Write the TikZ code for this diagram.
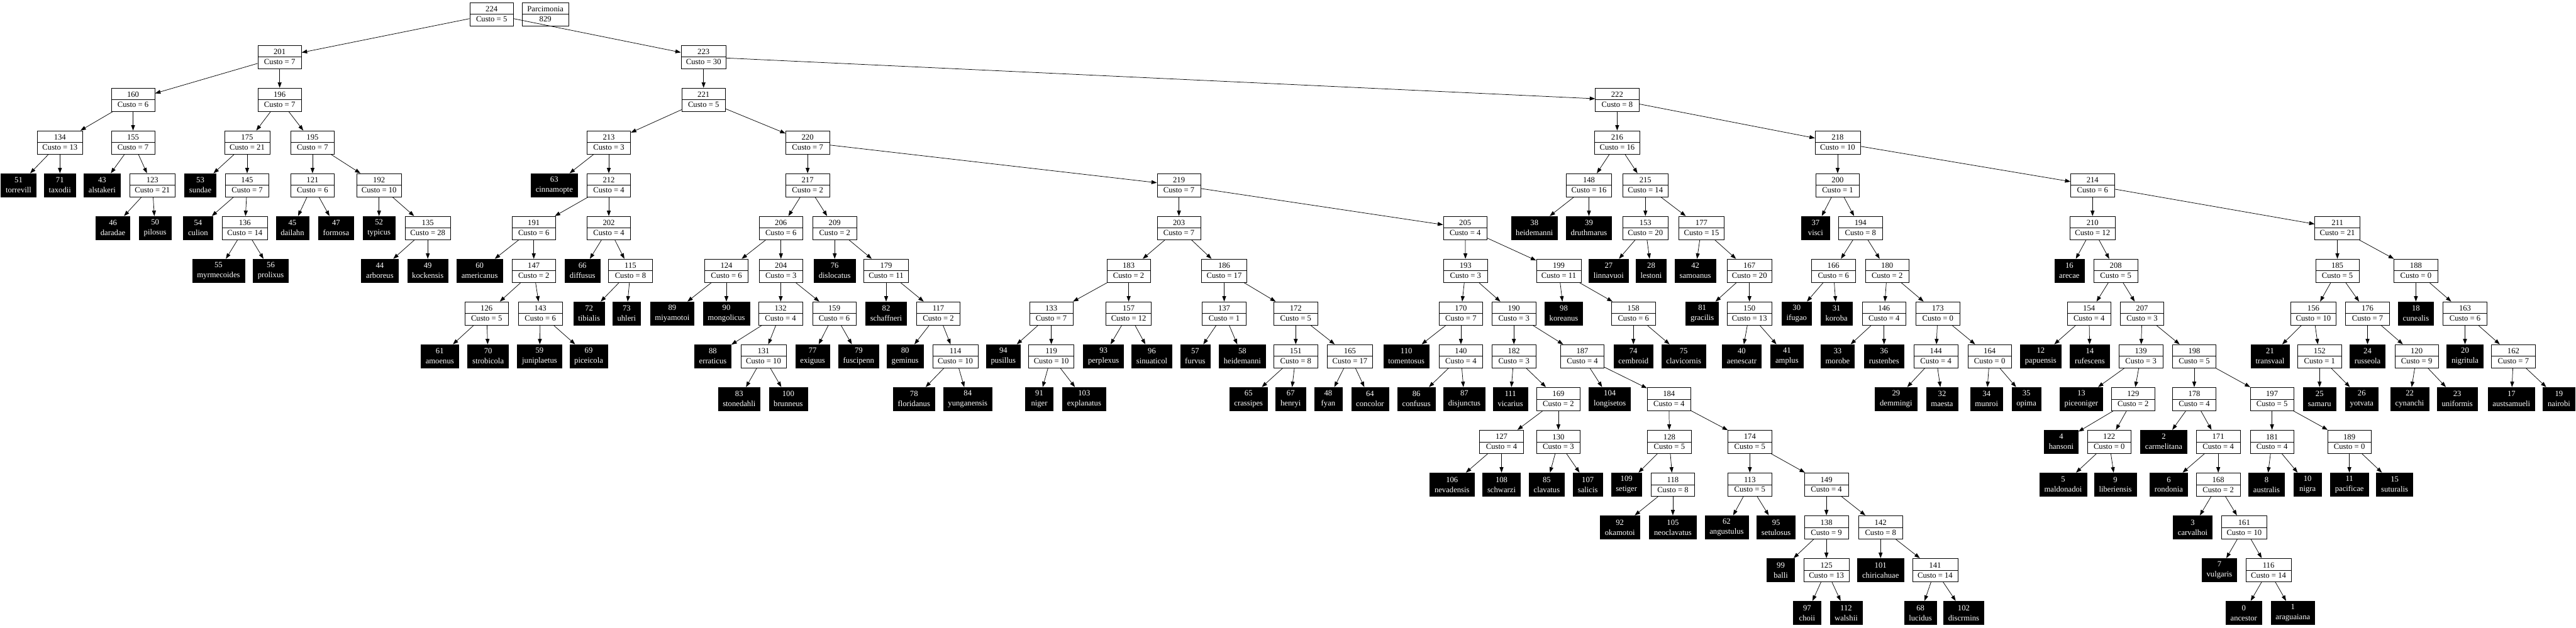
\documentclass[tikz,border=0pt]{standalone}
\usepackage{fontspec}
\setmainfont{Liberation Serif}
\usetikzlibrary{arrows.meta}

\begin{document}
\begin{tikzpicture}[x=0.5pt, y=-55.3pt,
    box/.style={draw, line width=0.5pt, minimum height=30.5pt, inner ysep=0pt,
      align=center, font=\fontsize{10.3}{13}\selectfont},
    inode/.style={box, fill=white, minimum width=56.5pt, inner xsep=6.5pt,
      path picture={\draw[line width=0.5pt] (path picture bounding box.west) -- (path picture bounding box.east);}},
    leaf/.style={box, fill=black, text=white, minimum width=36pt, inner xsep=6pt},
    link/.style={line width=0.6pt, -{Triangle[length=7pt, width=5pt]}}]

    \useasboundingbox (0,-0.3327) rectangle (6660,14.3425);

    % root and score
    \node[inode] (n224) at (1271,0) {224\\Custo = 5};
    \node[inode] (parc) at (1410,0) {Parcimonia\\829};

    % internal nodes, one loop per level
    \foreach \id/\xx/\cst in {201/723/7, 223/1819/30}
        \node[inode] (n\id) at (\xx,1) {\id\\Custo = \cst};
    \foreach \id/\xx/\cst in {160/344/6, 196/723/7, 221/1819/5, 222/4181/8}
        \node[inode] (n\id) at (\xx,2) {\id\\Custo = \cst};
    \foreach \id/\xx/\cst in {134/155/13, 155/344/7, 175/639/21, 195/808/7, 213/1574/3,
        220/2088/7, 216/4181/16, 218/4751/10}
        \node[inode] (n\id) at (\xx,3) {\id\\Custo = \cst};
    \foreach \id/\xx/\cst in {123/394/21, 145/639/7, 121/808/6, 192/980/10, 212/1574/4,
        217/2088/2, 219/3048/7, 148/4108/16, 215/4254/14, 200/4751/1, 214/5410/6}
        \node[inode] (n\id) at (\xx,4) {\id\\Custo = \cst};
    \foreach \id/\xx/\cst in {136/633/14, 135/1106/28, 191/1380/6, 202/1574/4, 206/2019/6,
        209/2158/2, 203/3048/7, 205/3788/4, 153/4254/20, 177/4399/15, 194/4810/8,
        210/5410/12, 211/6043/21}
        \node[inode] (n\id) at (\xx,5) {\id\\Custo = \cst};
    \foreach \id/\xx/\cst in {147/1380/2, 115/1630/8, 124/1878/6, 204/2019/3, 179/2291/11,
        183/2918/2, 186/3165/17, 193/3789/3, 199/4030/11, 167/4523/20, 166/4740/6,
        180/4879/2, 208/5470/5, 185/6043/5, 188/6246/0}
        \node[inode] (n\id) at (\xx,6) {\id\\Custo = \cst};
    \foreach \id/\xx/\cst in {126/1258/5, 143/1397/6, 132/2018/4, 159/2157/6, 117/2426/2,
        133/2718/7, 157/2918/12, 137/3165/1, 172/3350/5, 170/3777/7, 190/3914/3,
        158/4223/6, 150/4523/13, 146/4871/4, 173/5010/0, 154/5401/4, 207/5538/3,
        156/5981/10, 176/6121/7, 163/6373/6}
        \node[inode] (n\id) at (\xx,7) {\id\\Custo = \cst};
    \foreach \id/\xx/\cst in {131/1974/10, 114/2470/10, 119/2718/10, 151/3350/8, 165/3490/17,
        140/3777/4, 182/3914/3, 187/4091/4, 144/5005/4, 164/5144/0, 139/5535/3,
        198/5673/5, 152/5997/1, 120/6248/9, 162/6498/7}
        \node[inode] (n\id) at (\xx,8) {\id\\Custo = \cst};
    \foreach \id/\xx/\cst in {169/4029/2, 184/4315/4, 129/5515/2, 178/5673/4, 197/5874/5}
        \node[inode] (n\id) at (\xx,9) {\id\\Custo = \cst};
    \foreach \id/\xx/\cst in {127/3882/4, 130/4029/3, 128/4316/5, 174/4524/5, 122/5453/0,
        171/5735/4, 181/5874/4, 189/6074/0}
        \node[inode] (n\id) at (\xx,10) {\id\\Custo = \cst};
    \foreach \id/\xx/\cst in {118/4325/8, 113/4524/5, 149/4722/4, 168/5735/2}
        \node[inode] (n\id) at (\xx,11) {\id\\Custo = \cst};
    \foreach \id/\xx/\cst in {138/4722/9, 142/4862/8, 161/5802/10}
        \node[inode] (n\id) at (\xx,12) {\id\\Custo = \cst};
    \foreach \id/\xx/\cst in {125/4722/13, 141/5003/14, 116/5865/14}
        \node[inode] (n\id) at (\xx,13) {\id\\Custo = \cst};

    % leaves (species)
    \foreach \id/\xx/\nm in {51/48/torrevill, 71/155/taxodii, 43/264/alstakeri, 53/518/sundae,
        63/1433/cinnamopte}
        \node[leaf] (n\id) at (\xx,4) {\id\\\nm};
    \foreach \id/\xx/\nm in {46/292/daradae, 50/401/pilosus, 54/512/culion, 45/756/dailahn,
        47/869/formosa, 52/980/typicus, 38/3967/heidemanni, 39/4108/druthmarus, 37/4694/visci}
        \node[leaf] (n\id) at (\xx,5) {\id\\\nm};
    \foreach \id/\xx/\nm in {55/565/myrmecoides, 56/700/prolixus, 44/982/arboreus,
        49/1106/kockensis, 60/1240/americanus, 66/1506/diffusus, 76/2158/dislocatus,
        27/4159/linnavuoi, 28/4269/lestoni, 42/4383/samoanus, 16/5350/arecae}
        \node[leaf] (n\id) at (\xx,6) {\id\\\nm};
    \foreach \id/\xx/\nm in {72/1523/tibialis, 73/1620/uhleri, 89/1738/miyamotoi,
        90/1878/mongolicus, 82/2291/schaffneri, 98/4043/koreanus, 81/4401/gracilis,
        30/4645/ifugao, 31/4748/koroba, 18/6246/cunealis}
        \node[leaf] (n\id) at (\xx,7) {\id\\\nm};
    \foreach \id/\xx/\nm in {61/1137/amoenus, 70/1262/strobicola, 59/1395/juniplaetus,
        69/1522/piceicola, 88/1843/erraticus, 77/2101/exiguus, 79/2220/fuscipenn,
        80/2340/geminus, 94/2594/pusillus, 93/2853/perplexus, 96/2978/sinuaticol,
        57/3090/furvus, 58/3212/heidemanni, 110/3636/tomentosus, 74/4223/cembroid,
        75/4353/clavicornis, 40/4503/aenescatr, 41/4620/amplus, 33/4751/morobe,
        36/4871/rustenbes, 12/5276/papuensis, 14/5403/rufescens, 21/5869/transvaal,
        24/6121/russeola, 20/6373/nigritula}
        \node[leaf] (n\id) at (\xx,8) {\id\\\nm};
    \foreach \id/\xx/\nm in {83/1911/stonedahli, 100/2038/brunneus, 78/2363/floridanus,
        84/2502/yunganensis, 91/2687/niger, 103/2803/explanatus, 65/3228/crassipes,
        67/3337/henryi, 48/3434/fyan, 64/3542/concolor, 86/3662/confusus,
        87/3786/disjunctus, 111/3905/vicarius, 104/4162/longisetos, 29/4902/demmingi,
        32/5021/maesta, 34/5136/munroi, 35/5239/opima, 13/5381/piceoniger,
        25/5997/samaru, 26/6106/yotvata, 22/6230/cynanchi, 23/6353/uniformis,
        17/6493/austsamueli, 19/6616/nairobi}
        \node[leaf] (n\id) at (\xx,9) {\id\\\nm};
    \foreach \id/\xx/\nm in {4/5329/hansoni, 2/5594/carmelitana}
        \node[leaf] (n\id) at (\xx,10) {\id\\\nm};
    \foreach \id/\xx/\nm in {106/3754/nevadensis, 108/3882/schwarzi, 85/3999/clavatus,
        107/4105/salicis, 109/4205/setiger, 5/5334/maldonadoi, 9/5469/liberiensis,
        6/5607/rondonia, 8/5860/australis, 10/5966/nigra, 11/6074/pacificae,
        15/6191/suturalis}
        \node[leaf] (n\id) at (\xx,11) {\id\\\nm};
    \foreach \id/\xx/\nm in {92/4188/okamotoi, 105/4325/neoclavatus, 62/4464/angustulus,
        95/4592/setulosus, 3/5669/carvalhoi}
        \node[leaf] (n\id) at (\xx,12) {\id\\\nm};
    \foreach \id/\xx/\nm in {99/4604/balli, 101/4862/chiricahuae, 7/5738/vulgaris}
        \node[leaf] (n\id) at (\xx,13) {\id\\\nm};
    \foreach \id/\xx/\nm in {97/4672/choii, 112/4773/walshii, 68/4965/lucidus,
        102/5077/discrmins, 0/5801/ancestor, 1/5928/araguaiana}
        \node[leaf] (n\id) at (\xx,14) {\id\\\nm};

    % parent -> children
    \foreach \p/\a/\b in {224/201/223, 223/221/222, 222/216/218, 221/213/220, 220/217/219,
        219/203/205, 218/200/214, 217/206/209, 216/148/215, 215/153/177, 214/210/211,
        213/63/212, 212/191/202, 211/185/188, 210/16/208, 209/76/179, 208/154/207,
        207/139/198, 206/124/204, 205/193/199, 204/132/159, 203/183/186, 202/66/115,
        201/160/196, 200/37/194, 199/98/158, 198/178/197, 197/181/189, 196/175/195,
        195/121/192, 194/166/180, 193/170/190, 192/52/135, 191/60/147, 190/182/187,
        189/11/15, 188/18/163, 187/104/184, 186/137/172, 185/156/176, 184/128/174,
        183/133/157, 182/111/169, 181/8/10, 180/146/173, 179/82/117, 178/2/171,
        177/42/167, 176/24/120, 175/53/145, 174/113/149, 173/144/164, 172/151/165,
        171/6/168, 170/110/140, 169/127/130, 168/3/161, 167/81/150, 166/30/31,
        165/48/64, 164/34/35, 163/20/162, 162/17/19, 161/7/116, 160/134/155,
        159/77/79, 158/74/75, 157/93/96, 156/21/152, 155/43/123, 154/12/14,
        153/27/28, 152/25/26, 151/65/67, 150/40/41, 149/138/142, 148/38/39,
        147/126/143, 146/33/36, 145/54/136, 144/29/32, 143/59/69, 142/101/141,
        141/68/102, 140/86/87, 139/13/129, 138/99/125, 137/57/58, 136/55/56,
        135/44/49, 134/51/71, 133/94/119, 132/88/131, 131/83/100, 130/85/107,
        129/4/122, 128/109/118, 127/106/108, 126/61/70, 125/97/112, 124/89/90,
        123/46/50, 122/5/9, 121/45/47, 120/22/23, 119/91/103, 118/92/105,
        117/80/114, 116/0/1, 115/72/73, 114/78/84, 113/62/95} {
        \draw[link] (n\p) -- (n\a);
        \draw[link] (n\p) -- (n\b);
    }
\end{tikzpicture}
\end{document}
